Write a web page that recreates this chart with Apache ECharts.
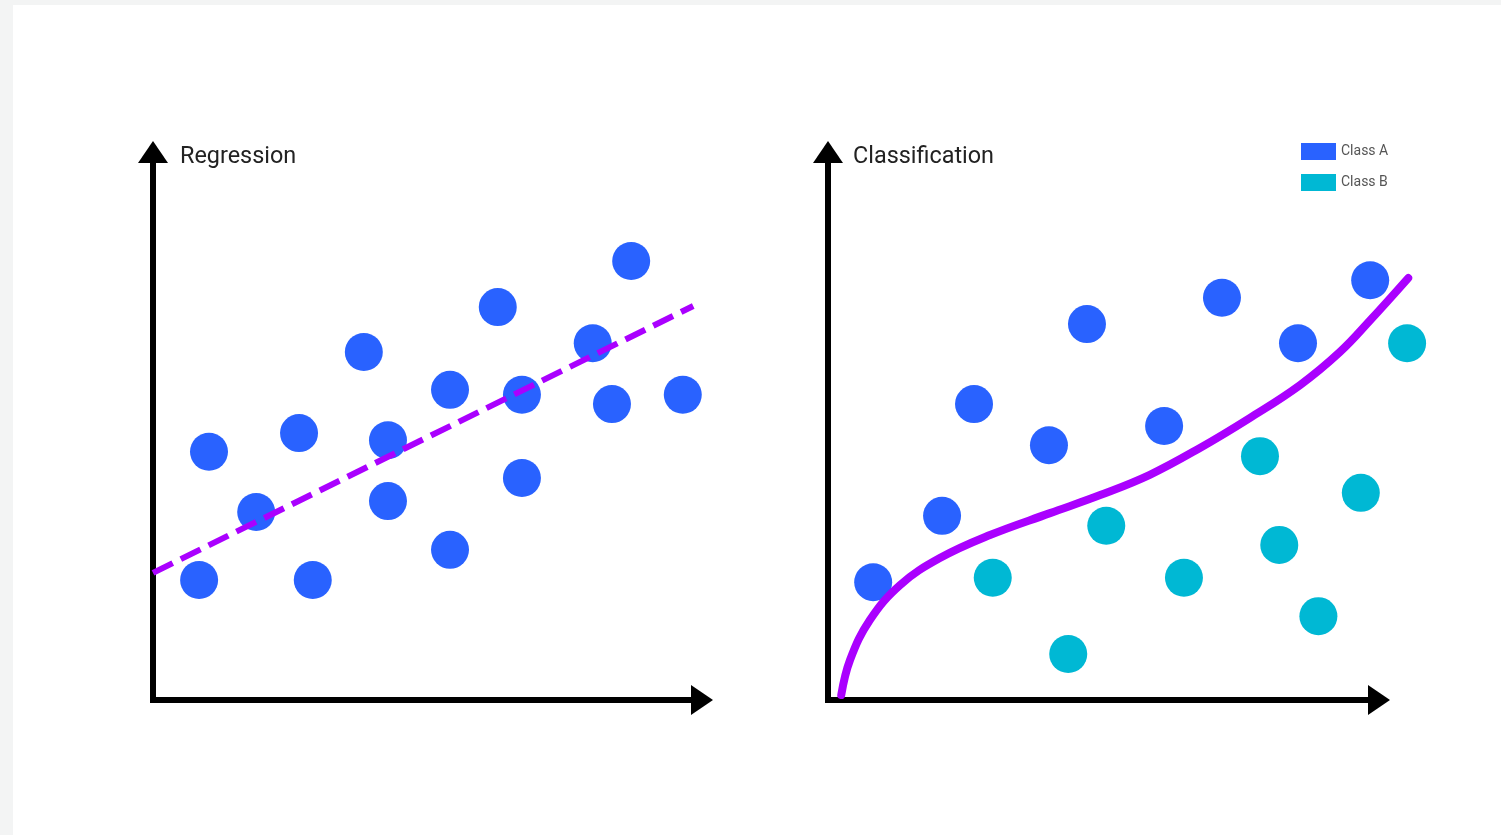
<!DOCTYPE html>
<html>
<head>
<meta charset="utf-8">
<title>Regression vs Classification</title>
<script src="https://cdn.jsdelivr.net/npm/echarts@6/dist/echarts.min.js"></script>
<style>
  html, body { margin: 0; padding: 0; background: #f3f4f4; }
  #chart { width: 1501px; height: 835px; }
</style>
</head>
<body>
<div id="chart"></div>
<script>
// Regression panel: scattered observations and the fitted trend line
const regX = [1.02, 1.88, 0.84, 2.66, 2.91, 3.84, 4.28, 4.28, 5.41, 5.41, 6.28, 6.72, 6.72, 8.01, 8.71, 8.36, 9.65];
const regY = [4.53, 3.43, 2.19, 4.87, 2.19, 6.35, 4.74, 3.63, 5.66, 2.74, 7.17, 5.57, 4.05, 6.51, 8.01, 5.40, 5.57];
const trendX = [0, 9.84];
const trendY = [2.32, 7.19];

// Classification panel: two classes split by a decision boundary
const classAX = [0.82, 2.07, 2.65, 4.01, 4.70, 6.10, 7.15, 8.53, 9.84];
const classAY = [2.15, 3.36, 5.40, 4.65, 6.86, 5.00, 7.34, 6.51, 7.66];
const classBX = [2.99, 4.36, 5.05, 6.46, 7.84, 8.19, 8.90, 9.67, 10.51];
const classBY = [2.23, 0.84, 3.18, 2.23, 4.45, 2.83, 1.53, 3.78, 6.51];
const boundaryX = [0.24, 0.40, 0.76, 1.31, 2.03, 2.94, 4.03, 4.94, 5.84, 6.75, 7.66, 8.57, 9.29, 9.84, 10.53];
const boundaryY = [0.09, 0.73, 1.46, 2.10, 2.59, 3.01, 3.41, 3.74, 4.11, 4.60, 5.15, 5.75, 6.35, 6.93, 7.70];

const panelTitles = ['Regression', 'Classification'];
const classNames = ['Class A', 'Class B'];

const BLUE = '#2962ff';
const CYAN = '#00b8d4';
const PURPLE = '#aa00ff';

const zip = (xs, ys) => xs.map((x, i) => [x, ys[i]]);

function arrowAxis(gridIndex) {
  return {
    type: 'value',
    gridIndex: gridIndex,
    min: 0,
    max: 10,
    axisLine: {
      show: true,
      onZero: false,
      symbol: ['none', 'triangle'],
      symbolSize: [30, 22],
      lineStyle: { color: '#000', width: 6, cap: 'square' }
    },
    axisTick: { show: false },
    axisLabel: { show: false },
    splitLine: { show: false }
  };
}

// Same scale as the classification panel, with room past the arrow so the
// boundary curve can run beyond the end of the x axis.
function hiddenAxis(gridIndex, max) {
  return { type: 'value', gridIndex: gridIndex, min: 0, max: max, show: false };
}

const chart = echarts.init(document.getElementById('chart'), null, { renderer: 'canvas' });

const titleStyle = { fontFamily: 'Roboto', fontSize: 23.4, fontWeight: 'normal', color: '#222' };

chart.setOption({
  backgroundColor: '#f3f4f4',
  animation: false,
  graphic: [{
    type: 'rect',
    z: -10,
    silent: true,
    shape: { x: 13, y: 5, width: 1488, height: 830 },
    style: { fill: '#ffffff' }
  }],
  title: [
    { text: panelTitles[0], left: 180, top: 146, padding: 0, textStyle: titleStyle },
    { text: panelTitles[1], left: 853, top: 146, padding: 0, textStyle: titleStyle }
  ],
  legend: {
    data: classNames,
    orient: 'vertical',
    left: 1301,
    top: 143,
    padding: 0,
    icon: 'rect',
    itemWidth: 35,
    itemHeight: 17,
    itemGap: 14,
    textStyle: { fontFamily: 'Roboto', fontSize: 14, color: '#555' }
  },
  grid: [
    { left: 153, top: 152, width: 549, height: 548 },
    { left: 828, top: 152, width: 551, height: 548 },
    { left: 828, top: 152, width: 606.1, height: 548 }
  ],
  xAxis: [arrowAxis(0), arrowAxis(1), hiddenAxis(2, 11)],
  yAxis: [arrowAxis(0), arrowAxis(1), hiddenAxis(2, 10)],
  series: [
    {
      name: 'Observations',
      type: 'scatter',
      xAxisIndex: 0, yAxisIndex: 0,
      symbolSize: 38,
      itemStyle: { color: BLUE, opacity: 1 },
      data: zip(regX, regY),
      z: 2
    },
    {
      name: 'Trend',
      type: 'line',
      xAxisIndex: 0, yAxisIndex: 0,
      showSymbol: false,
      symbol: 'none',
      lineStyle: { color: PURPLE, width: 6, type: [22, 9] },
      data: zip(trendX, trendY),
      z: 3
    },
    {
      name: classNames[0],
      type: 'scatter',
      xAxisIndex: 1, yAxisIndex: 1,
      symbolSize: 38,
      clip: false,
      itemStyle: { color: BLUE, opacity: 1 },
      data: zip(classAX, classAY),
      z: 2
    },
    {
      name: classNames[1],
      type: 'scatter',
      xAxisIndex: 1, yAxisIndex: 1,
      symbolSize: 38,
      clip: false,
      itemStyle: { color: CYAN, opacity: 1 },
      data: zip(classBX, classBY),
      z: 2
    },
    {
      name: 'Boundary',
      type: 'line',
      xAxisIndex: 2, yAxisIndex: 2,
      smooth: 0.4,
      clip: false,
      showSymbol: false,
      symbol: 'none',
      lineStyle: { color: PURPLE, width: 8, cap: 'round', join: 'round' },
      data: zip(boundaryX, boundaryY),
      z: 3
    }
  ]
});
</script>
</body>
</html>
